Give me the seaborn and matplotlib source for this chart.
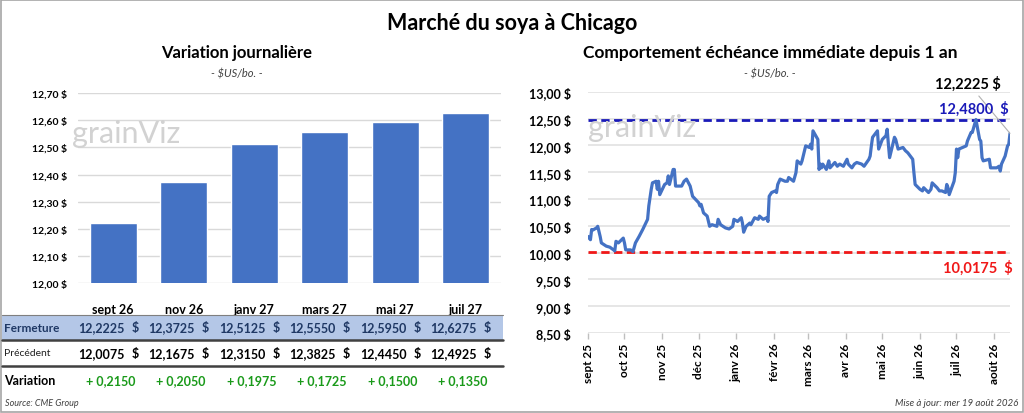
import numpy as np
import pandas as pd
import matplotlib
matplotlib.use("Agg")
import matplotlib.pyplot as plt
import matplotlib.transforms as mtransforms
from matplotlib.lines import Line2D
from matplotlib.patches import Rectangle
from matplotlib.ticker import MultipleLocator, FuncFormatter
import seaborn as sns

# --- data: daily variation (left) ---
contracts = ["sept 26", "nov 26", "janv 27", "mars 27", "mai 27", "juil 27"]
fermeture = [12.2225, 12.3725, 12.5125, 12.5550, 12.5950, 12.6275]
precedent = [12.0075, 12.1675, 12.3150, 12.3825, 12.4450, 12.4925]
variation = [0.2150, 0.2050, 0.1975, 0.1725, 0.1500, 0.1350]

# --- data: nearby contract over one year (right) ---
hist_dates = [
    "2025-09-01", "2025-09-03", "2025-09-04", "2025-09-05", "2025-09-08", "2025-09-09", "2025-09-11", "2025-09-12",
    "2025-09-16", "2025-09-19", "2025-09-22", "2025-09-23", "2025-09-24", "2025-09-26", "2025-09-30",
    "2025-10-01", "2025-10-02", "2025-10-06", "2025-10-08", "2025-10-10", "2025-10-13", "2025-10-16", "2025-10-20",
    "2025-10-21", "2025-10-23", "2025-10-24", "2025-10-27", "2025-10-28", "2025-10-29", "2025-10-30",
    "2025-11-03", "2025-11-05", "2025-11-06", "2025-11-07", "2025-11-10", "2025-11-11", "2025-11-12", "2025-11-17",
    "2025-11-19", "2025-11-21", "2025-11-24", "2025-11-26",
    "2025-12-01", "2025-12-02", "2025-12-03", "2025-12-05", "2025-12-08", "2025-12-10", "2025-12-12", "2025-12-16",
    "2025-12-17", "2025-12-19", "2025-12-23", "2025-12-26", "2025-12-29", "2025-12-30",
    "2026-01-02", "2026-01-05", "2026-01-06", "2026-01-07", "2026-01-09", "2026-01-12", "2026-01-13", "2026-01-16",
    "2026-01-19", "2026-01-20", "2026-01-23", "2026-01-26", "2026-01-27", "2026-01-28", "2026-01-30",
    "2026-02-02", "2026-02-03", "2026-02-04", "2026-02-06", "2026-02-10", "2026-02-12", "2026-02-13", "2026-02-17",
    "2026-02-19", "2026-02-20", "2026-02-23", "2026-02-24", "2026-02-27",
    "2026-03-02", "2026-03-03", "2026-03-04", "2026-03-05", "2026-03-09", "2026-03-10", "2026-03-11", "2026-03-12",
    "2026-03-13", "2026-03-16", "2026-03-18", "2026-03-19", "2026-03-23", "2026-03-25", "2026-03-27", "2026-03-30",
    "2026-04-02", "2026-04-03", "2026-04-06", "2026-04-08", "2026-04-10", "2026-04-14", "2026-04-16", "2026-04-20",
    "2026-04-21", "2026-04-22", "2026-04-23", "2026-04-27", "2026-04-28",
    "2026-05-01", "2026-05-04", "2026-05-05", "2026-05-06", "2026-05-07", "2026-05-11", "2026-05-12", "2026-05-14",
    "2026-05-18", "2026-05-20", "2026-05-22", "2026-05-26", "2026-05-27", "2026-05-28",
    "2026-06-01", "2026-06-03", "2026-06-04", "2026-06-08", "2026-06-10", "2026-06-11", "2026-06-15", "2026-06-17",
    "2026-06-19", "2026-06-22", "2026-06-23", "2026-06-24", "2026-06-25", "2026-06-29", "2026-06-30",
    "2026-07-01", "2026-07-02", "2026-07-03", "2026-07-06", "2026-07-09", "2026-07-10", "2026-07-13", "2026-07-14",
    "2026-07-17", "2026-07-20", "2026-07-21", "2026-07-22", "2026-07-23", "2026-07-28", "2026-07-29",
    "2026-08-03", "2026-08-05", "2026-08-06", "2026-08-07", "2026-08-10", "2026-08-12", "2026-08-13", "2026-08-14",
]
hist_prices = [
    10.30, 10.24, 10.43, 10.42, 10.46, 10.49, 10.30, 10.18,
    10.12, 10.10, 10.05, 10.03, 10.21, 10.18, 10.27,
    10.18, 10.05, 10.05, 10.0175, 10.18, 10.30, 10.43, 10.62,
    10.87, 11.18, 11.30, 11.33, 11.18, 11.33, 11.08,
    11.27, 11.30, 11.43, 11.27, 11.55, 11.55, 11.24, 11.24,
    11.33, 11.37, 11.24, 11.05,
    10.93, 10.87, 10.90, 10.74, 10.68, 10.49, 10.52, 10.49,
    10.62, 10.52, 10.46, 10.44, 10.49, 10.62,
    10.58, 10.65, 10.55, 10.38, 10.49, 10.55, 10.52, 10.65,
    10.62, 10.68, 10.62, 10.65, 10.58, 11.05, 11.12,
    11.15, 11.12, 11.27, 11.37, 11.33, 11.33, 11.40, 11.33,
    11.49, 11.71, 11.65, 11.71, 11.99,
    11.96, 12.02, 11.93, 12.27, 12.11, 11.55, 11.65, 11.58,
    11.65, 11.55, 11.71, 11.58, 11.68, 11.61, 11.65, 11.61,
    11.74, 11.65, 11.58, 11.65, 11.68, 11.65, 11.61, 11.74,
    11.80, 11.99, 12.15, 12.27, 11.93,
    12.11, 12.18, 12.30, 12.02, 11.77, 12.15, 12.11, 11.93,
    11.96, 11.90, 11.86, 11.74, 11.49, 11.27,
    11.18, 11.15, 11.21, 11.12, 11.18, 11.30, 11.21, 11.15,
    11.15, 11.12, 11.27, 11.21, 11.08, 11.33, 11.49,
    11.93, 11.77, 11.93, 11.96, 11.99, 12.08, 12.24, 12.24,
    12.48, 12.11, 12.08, 11.77, 11.71, 11.74, 11.58,
    11.58, 11.61, 11.52, 11.65, 11.80, 11.99, 12.02, 12.2225,
]
haut_1an = 12.48
bas_1an = 10.0175
month_labels = ["sept 25", "oct 25", "nov 25", "déc 25", "janv 26", "févr 26",
                "mars 26", "avr 26", "mai 26", "juin 26", "juil 26", "août 26"]

BLUE = "#4472C4"


def fr(v, d=4):
    return f"{v:.{d}f}".replace(".", ",")


sns.set_theme(style="white")
plt.rcParams["font.family"] = ["Lato", "DejaVu Sans"]

W, H = 1024, 414
fig = plt.figure(figsize=(W / 100, H / 100), dpi=100)


def box(l, t, r, b):
    return [l / W, 1 - b / H, (r - l) / W, (b - t) / H]


def fy(px):
    return 1 - px / H


ax1 = fig.add_axes(box(78, 94, 501, 284.3))
ax2 = fig.add_axes(box(588, 92.7, 1010, 334))

# titles
fig.text(0.5, fy(24), "Marché du soya à Chicago", ha="center", va="center",
         fontsize=15.5, fontweight="bold", color="black")
fig.text(237 / W, fy(53), "Variation journalière", ha="center", va="center",
         fontsize=12, fontweight="bold", color="black")
fig.text(237 / W, fy(74), "- $US/bo. -", ha="center", va="center",
         fontsize=8, style="italic", color="#404040")
fig.text(770 / W, fy(53), "Comportement échéance immédiate depuis 1 an", ha="center", va="center",
         fontsize=12.5, fontweight="bold", color="black")
fig.text(770 / W, fy(74), "- $US/bo. -", ha="center", va="center",
         fontsize=8, style="italic", color="#404040")

# watermarks
fig.text(72 / W, fy(143), "grainViz", ha="left", va="baseline", fontsize=22,
         color="#D2D2D2", zorder=0)
fig.text(588 / W, fy(137), "grainViz", ha="left", va="baseline", fontsize=22,
         color="#D2D2D2", zorder=0)

# --- left: bars ---
df_bar = pd.DataFrame({"contrat": contracts, "fermeture": fermeture})
sns.barplot(data=df_bar, x="contrat", y="fermeture", color=BLUE, saturation=1,
            width=0.67, ax=ax1, zorder=2)
ax1.set_ylim(12.0, 12.70)
ax1.set_xlim(-0.5, len(contracts) - 0.5)
ax1.yaxis.set_major_locator(MultipleLocator(0.1))
ax1.yaxis.set_major_formatter(FuncFormatter(lambda v, p: fr(v, 2) + " $"))
ax1.grid(axis="y", color="#D9D9D9", lw=1)
ax1.set_axisbelow(True)
ax1.set_xlabel("")
ax1.set_ylabel("")
for s in ax1.spines.values():
    s.set_visible(False)
ax1.tick_params(axis="y", length=0, pad=8, labelsize=7.5)
ax1.tick_params(axis="x", length=0, pad=14, labelsize=9)
for lab in ax1.get_yticklabels() + ax1.get_xticklabels():
    lab.set_fontweight("bold")
    lab.set_color("black")

# --- left: table under the bars ---
band_top, band_bot = fy(316), fy(341)
fig.add_artist(Rectangle((2 / W, band_bot), 501 / W, band_top - band_bot,
                         transform=fig.transFigure, facecolor="#B4C7E7", edgecolor="none", zorder=0))
fig.add_artist(Line2D([2 / W, 503 / W], [fy(315.5)] * 2, color="#7F7F7F", lw=0.8))
fig.add_artist(Line2D([2 / W, 503 / W], [fy(341)] * 2, color="#404040", lw=1.8))
fig.add_artist(Line2D([2 / W, 503 / W], [fy(367)] * 2, color="#404040", lw=1.8))

trans = mtransforms.blended_transform_factory(ax1.transData, fig.transFigure)
y_ferm, y_prec, y_var = fy(328.5), fy(354), fy(381)
NAVY = "#1F3864"
GREEN = "#1A9A1A"
fig.text(4 / W, y_ferm, "Fermeture", ha="left", va="center", fontsize=8.5,
         fontweight="bold", color=NAVY)
fig.text(4 / W, y_prec, "Précédent", ha="left", va="center", fontsize=7.5, color="#202020")
fig.text(4 / W, y_var, "Variation", ha="left", va="center", fontsize=9,
         fontweight="bold", color="black")
for i in range(len(contracts)):
    ax1.text(i + 0.16, y_ferm, fr(fermeture[i]), transform=trans, ha="right", va="center",
             fontsize=9, fontweight="bold", color=NAVY)
    ax1.text(i + 0.31, y_ferm, "$", transform=trans, ha="center", va="center",
             fontsize=9, fontweight="bold", color=NAVY)
    ax1.text(i + 0.16, y_prec, fr(precedent[i]), transform=trans, ha="right", va="center",
             fontsize=9, fontweight="bold", color="black")
    ax1.text(i + 0.31, y_prec, "$", transform=trans, ha="center", va="center",
             fontsize=9, fontweight="bold", color="black")
    ax1.text(i - 0.04, y_var, "+ " + fr(variation[i]), transform=trans, ha="center", va="center",
             fontsize=9, fontweight="bold", color=GREEN)

fig.text(5 / W, fy(404), "Source: CME Group", ha="left", va="center", fontsize=6.5,
         style="italic", color="#404040")
fig.text(1018 / W, fy(404), "Mise à jour: mer 19 août 2026", ha="right", va="center",
         fontsize=7, style="italic", color="#404040")

# --- right: line ---
df_hist = pd.DataFrame({"date": pd.to_datetime(hist_dates), "prix": hist_prices})
sns.lineplot(data=df_hist, x="date", y="prix", color=BLUE, lw=2.3, ax=ax2, zorder=3)
ax2.axhline(haut_1an, color="#1A1AB8", lw=2, dashes=(3, 1.6), zorder=2)
ax2.axhline(bas_1an, color="#F01818", lw=2, dashes=(3, 1.6), zorder=2)
ax2.set_xlim(df_hist["date"].iloc[0], df_hist["date"].iloc[-1])
ax2.set_ylim(8.5, 13.0)
ax2.yaxis.set_major_locator(MultipleLocator(0.5))
ax2.yaxis.set_major_formatter(FuncFormatter(lambda v, p: fr(v, 2) + " $"))
month_ticks = pd.date_range("2025-09-01", periods=len(month_labels), freq="MS")
ax2.set_xticks(month_ticks)
ax2.set_xticklabels(month_labels, rotation=90)
ax2.grid(axis="y", color="#E2E2E2", lw=1.2)
ax2.set_axisbelow(True)
ax2.set_xlabel("")
ax2.set_ylabel("")
for s in ax2.spines.values():
    s.set_visible(False)
ax2.tick_params(axis="y", length=0, pad=12, labelsize=9)
ax2.tick_params(axis="x", bottom=True, length=4, width=1, color="#BFBFBF", pad=3, labelsize=8.5)
for lab in ax2.get_yticklabels() + ax2.get_xticklabels():
    lab.set_fontweight("bold")
    lab.set_color("black")

last_date = df_hist["date"].iloc[-1]
last_price = hist_prices[-1]
ax2.annotate(fr(last_price) + " $", xy=(last_date, last_price),
             xytext=(968, H - 84), textcoords="figure pixels", ha="center", va="center",
             fontsize=10.5, fontweight="bold", color="black",
             arrowprops=dict(arrowstyle="-", color="#B0B0B0", lw=0.8, shrinkA=2, shrinkB=0))
ax2.annotate(fr(haut_1an) + "  $", xy=(last_date, haut_1an), xytext=(-1, 3),
             textcoords="offset points", ha="right", va="bottom",
             fontsize=10.5, fontweight="bold", color="#1A1AB8")
ax2.annotate(fr(bas_1an) + "  $", xy=(last_date, bas_1an), xytext=(2, -6),
             textcoords="offset points", ha="right", va="top",
             fontsize=10.5, fontweight="bold", color="#F01818")

# outer frame
fig.add_artist(Rectangle((0.6 / W, 0.6 / H), (W - 1.6) / W, (H - 1.6) / H,
                         transform=fig.transFigure, fill=False, edgecolor="#A6A6A6", lw=1.2))

fig.savefig("out.png", dpi=100)
